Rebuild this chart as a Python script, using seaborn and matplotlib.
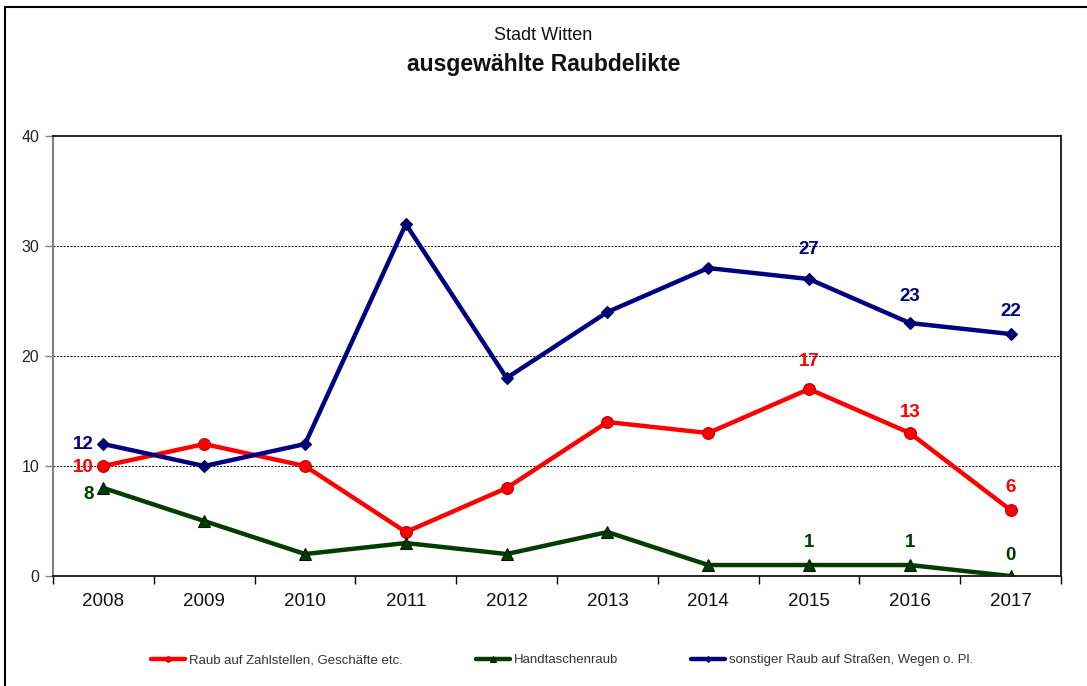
import numpy as np
import pandas as pd
import matplotlib
matplotlib.use("Agg")
import matplotlib.pyplot as plt
import seaborn as sns
from matplotlib.patches import Rectangle

# Daten
jahre = ["2008", "2009", "2010", "2011", "2012", "2013", "2014", "2015", "2016", "2017"]
zahlstellen = [10, 12, 10, 4, 8, 14, 13, 17, 13, 6]
handtaschen = [8, 5, 2, 3, 2, 4, 1, 1, 1, 0]
sonstiger = [12, 10, 12, 32, 18, 24, 28, 27, 23, 22]

namen = ["Raub auf Zahlstellen, Geschäfte etc.", "Handtaschenraub",
         "sonstiger Raub auf Straßen, Wegen o. Pl."]
beschriftet = [0, 7, 8, 9]  # Jahre mit Wertebeschriftung

sns.set_theme(style="white")
plt.rcParams['font.family'] = ['Liberation Sans', 'DejaVu Sans']
narrow = ['Liberation Sans Narrow', 'DejaVu Sans Condensed', 'Liberation Sans']

fig = plt.figure(figsize=(10.87, 6.86), dpi=100)
ax = fig.add_axes([0.0488, 0.1603, 0.9273, 0.6414])

x = np.arange(len(jahre))
df = pd.DataFrame({'x': x, 'rot': zahlstellen, 'gruen': handtaschen, 'blau': sonstiger})

stile = [
    ('rot', namen[0], '#ff0000', 'o', 8.5, '#c00000'),
    ('gruen', namen[1], '#003d00', '^', 8.5, '#001a00'),
    ('blau', namen[2], '#000080', 'D', 6.5, '#000040'),
]
for spalte, name, farbe, marker, ms, kante in stile:
    sns.lineplot(data=df, x='x', y=spalte, ax=ax, color=farbe, lw=3.2,
                 marker=marker, markersize=ms, markeredgecolor=kante,
                 markeredgewidth=0.8, label=name, legend=False, zorder=3)

# Wertebeschriftungen
versatz = {
    'rot': {0: (-7, -1), 7: (0, 20), 8: (0, 15), 9: (0, 16)},
    'gruen': {0: (-7, -5), 7: (0, 16), 8: (0, 16), 9: (0, 15)},
    'blau': {0: (-7, 0), 7: (0, 21), 8: (0, 19), 9: (0, 16)},
}
for spalte, name, farbe, marker, ms, kante in stile:
    for i in beschriftet:
        dx, dy = versatz[spalte][i]
        ha = 'right' if dx < 0 else 'center'
        ax.annotate(str(df[spalte][i]), (x[i], df[spalte][i]), xytext=(dx, dy),
                    textcoords='offset points', ha=ha, va='center',
                    color=farbe, fontsize=13.5, fontweight='bold', family=narrow,
                    zorder=4)

ax.set_xlim(-0.5, len(jahre) - 0.5)
ax.set_ylim(0, 40)
ax.set_yticks([0, 10, 20, 30, 40])
ax.set_xticks(x)
ax.set_xticklabels(jahre)
ax.set_xticks(np.arange(-0.5, len(jahre)), minor=True)
ax.tick_params(axis='x', which='major', length=0, pad=12, labelsize=13.5, labelcolor='#111111')
ax.tick_params(axis='x', which='minor', length=6, width=1, color='black', direction='out', bottom=True)
ax.tick_params(axis='y', length=6, width=1, color='#808080', direction='out', left=True,
               labelsize=11.5, labelcolor='#222222', pad=4)
ax.set_xlabel('')
ax.set_ylabel('')

for y in [10, 20, 30]:
    ax.axhline(y, color='black', lw=0.7, ls=(0, (2, 1.5)), zorder=1)

for s in ['top', 'right', 'bottom']:
    ax.spines[s].set_color('black')
    ax.spines[s].set_linewidth(1.2)
ax.spines['left'].set_color('#808080')
ax.spines['left'].set_linewidth(1.5)

fig.text(0.5, 1 - 35 / 686, 'Stadt Witten', ha='center', va='center', fontsize=13, color='#111111')
fig.text(0.5, 1 - 64 / 686, 'ausgewählte Raubdelikte', ha='center', va='center',
         fontsize=16.5, fontweight='bold', color='#111111')

handles, labels = ax.get_legend_handles_labels()
leg = fig.legend(handles, labels, loc='center', bbox_to_anchor=(562 / 1087, 1 - 660 / 686),
                 ncol=3, frameon=False, handlelength=2.6, columnspacing=5.5, handletextpad=0.3,
                 prop={'family': narrow, 'size': 9.5}, markerscale=0.45)
for t in leg.get_texts():
    t.set_color('#333333')

# Rahmen um die Grafik (rechts und unten abgeschnitten)
fig.patches.append(Rectangle((5 / 1087, -0.1), 2, 1.1 - 7 / 686, transform=fig.transFigure,
                             fill=False, edgecolor='black', lw=1.5))

fig.savefig('out.png', dpi=100)
